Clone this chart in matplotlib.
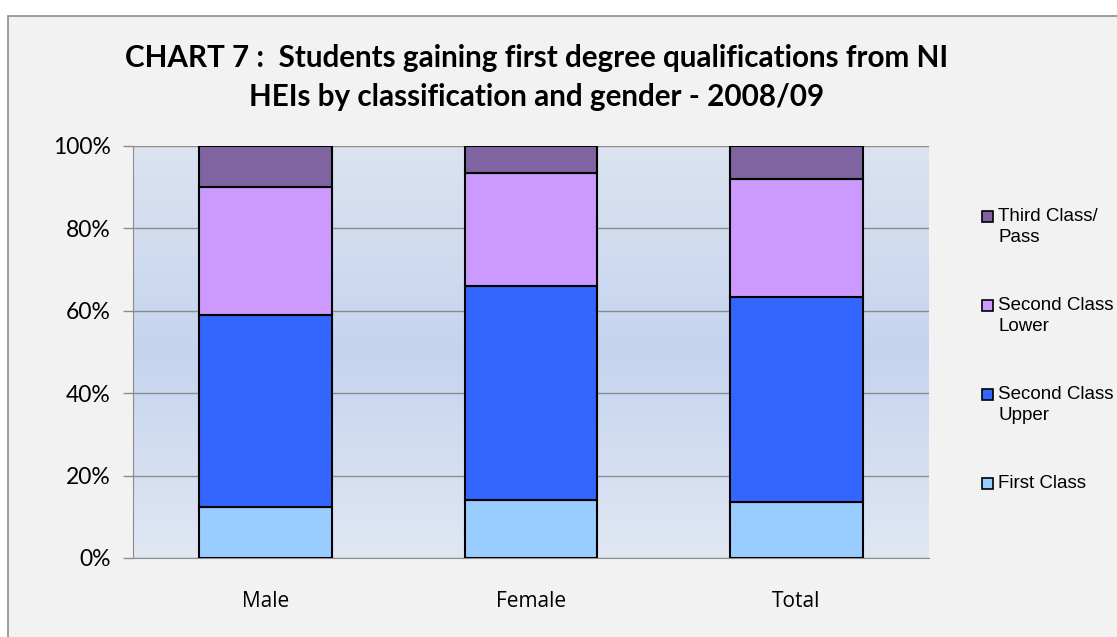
import numpy as np
import matplotlib.pyplot as plt
from matplotlib.patches import Rectangle
from matplotlib.colors import LinearSegmentedColormap

# data (percent of each group)
groups = ["Male", "Female", "Total"]
first_class = [12.5, 14.0, 13.5]
second_upper = [46.6, 52.0, 49.9]
second_lower = [31.0, 27.5, 28.7]
third_pass = [9.9, 6.5, 7.9]

series = [first_class, second_upper, second_lower, third_pass]
names = ["First Class", "Second Class\nUpper", "Second Class\nLower", "Third Class/\nPass"]
colors = ["#99ccff", "#3366ff", "#cc99ff", "#8064a2"]

fig = plt.figure(figsize=(11.17, 6.37), dpi=100)
fig.patch.set_facecolor("white")
# outer chart box
fig.patches.append(Rectangle((8 / 1117, -0.05), 1.1, 1 - 16 / 637 + 0.05,
                             transform=fig.transFigure, facecolor="#f2f2f2",
                             edgecolor="#8c8c8c", linewidth=1.2, zorder=-10))

ax = fig.add_axes([133 / 1117, 79 / 637, 796 / 1117, 412 / 637])
ax.set_facecolor("none")

# gradient background of the plot area
grad = LinearSegmentedColormap.from_list("bg", ["#e1e7f3", "#c5d4ee", "#dbe3f0"])
ax.imshow(np.linspace(0, 1, 256).reshape(-1, 1), cmap=grad, aspect="auto",
          extent=(-0.5, 2.5, 0, 100), origin="lower", zorder=0)

x = np.arange(len(groups))
bottom = np.zeros(len(groups))
for vals, c in zip(series, colors):
    ax.bar(x, vals, width=0.5, bottom=bottom, color=c, edgecolor="black",
           linewidth=1.5, zorder=3)
    bottom += np.array(vals)

ax.set_xlim(-0.5, 2.5)
ax.set_ylim(0, 100)
ax.set_yticks(np.arange(0, 101, 20))
ax.set_yticklabels([f"{v}%" for v in range(0, 101, 20)])
ax.yaxis.grid(True, color="#8c8c8c", linewidth=1, zorder=1)
ax.set_axisbelow(False)
ax.set_xticks(x)
ax.set_xticklabels(groups)

for s in ["top", "right"]:
    ax.spines[s].set_visible(False)
for s in ["left", "bottom"]:
    ax.spines[s].set_color("#8c8c8c")
    ax.spines[s].set_zorder(2)

ax.tick_params(axis="y", length=7, width=1, color="#8c8c8c", pad=9,
               labelsize=16.5)
ax.tick_params(axis="x", length=0, pad=24, labelsize=15)
for lab in ax.get_yticklabels():
    lab.set_family("Lato")
for lab in ax.get_xticklabels():
    lab.set_family("Open Sans")

fig.text(0.48, 1 - 77.5 / 637,
         "CHART 7 :  Students gaining first degree qualifications from NI\nHEIs by classification and gender - 2008/09",
         ha="center", va="center", fontsize=21.3, fontweight="bold",
         family="Lato", linespacing=1.5)

# legend, top entry = last series
for i, (name, c) in enumerate(zip(names[::-1], colors[::-1])):
    yc = 216.7 + 89.1 * i
    fig.patches.append(Rectangle((982 / 1117, 1 - (yc + 5.5) / 637), 11 / 1117, 11 / 637,
                                 transform=fig.transFigure, facecolor=c,
                                 edgecolor="black", linewidth=1.2))
    fig.text(998 / 1117, 1 - (yc - 9) / 637, name, ha="left", va="top",
             fontsize=13.5, family="Liberation Sans", linespacing=1.3)

fig.savefig("out.png", dpi=100)
